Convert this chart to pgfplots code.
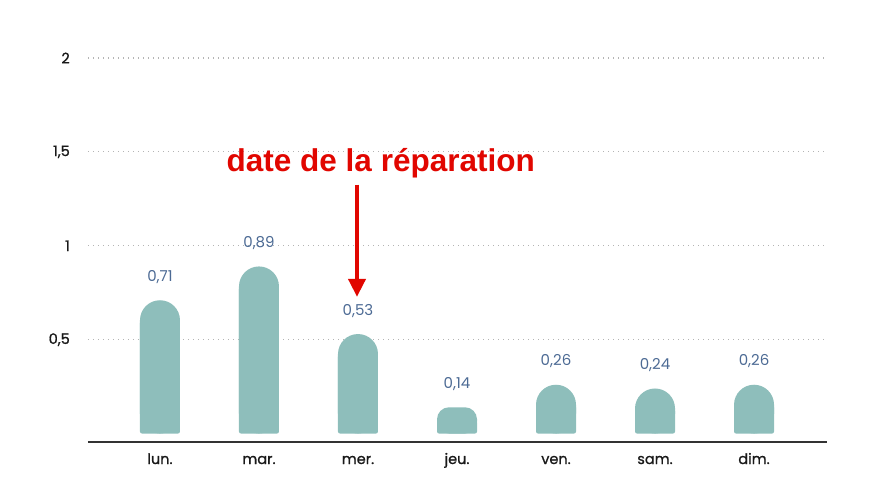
\documentclass[border=0pt]{standalone}
\usepackage{fontspec}
\setmainfont{Poppins}
\newfontfamily\medfont[FakeBold=0.9]{Poppins}
\newfontfamily\titlefont{Liberation Sans}
\usepackage{pgfplots}
\usepackage{pgfplotstable}
\pgfplotsset{compat=1.18}
\usetikzlibrary{arrows.meta}

\definecolor{barcol}{HTML}{8EBEBB}
\definecolor{valcol}{HTML}{4C6A94}
\definecolor{gridcol}{HTML}{B4B4B4}
\definecolor{redann}{HTML}{E10600}

% jours de la semaine : x, valeur, etiquette, base (bas carre des barres)
\pgfplotstableread{
x y    lab  base
0 0.71 0,71 0.60
1 0.89 0,89 0.78
2 0.53 0,53 0.42
3 0.14 0,14 0.07
4 0.26 0,26 0.15
5 0.24 0,24 0.13
6 0.26 0,26 0.15
}\jours

\pgfplotstableread{
x y
0 0.71
1 0.89
2 0.53
4 0.26
5 0.24
6 0.26
}\hautes

\pgfplotstableread{
x y
3 0.14
}\basse

\begin{document}
\begin{tikzpicture}
\useasboundingbox (-88bp,-58bp) rectangle (784bp,442bp);
\begin{axis}[
    at={(0,0)}, anchor=south west,
    scale only axis,
    width=739bp, height=384bp,
    xmin=-0.727, xmax=6.737,
    ymin=-0.045, ymax=2,
    axis x line*=bottom,
    axis y line*=left,
    x axis line style={-, draw=black!80, line width=1.3bp},
    y axis line style={draw=none},
    xtick={0,...,6},
    xticklabels={lun.,mar.,mer.,jeu.,ven.,sam.,dim.},
    ytick={0.5,1,1.5,2},
    yticklabels={{0,5},1,{1,5},2},
    major tick length=0pt,
    ymajorgrids,
    grid style={gridcol, line width=1.1bp, dash pattern=on 1.3bp off 3.7bp},
    tick label style={font=\medfont\fontsize{14.5bp}{17bp}\selectfont, text=black!90},
    xticklabel style={anchor=base, yshift=-22bp},
    yticklabel style={anchor=east, inner sep=0pt, xshift=-18bp},
    clip=false,
]
\addplot[ybar, bar width=40bp, bar shift=0pt, fill=barcol, draw=none,
    rounded corners=20bp] table[x=x, y=y] {\hautes};
\addplot[ybar, bar width=40bp, bar shift=0pt, fill=barcol, draw=none,
    rounded corners=12bp] table[x=x, y=y] {\basse};
\addplot[ybar, bar width=40bp, bar shift=0pt, fill=barcol, draw=none,
    rounded corners=2bp] table[x=x, y=base] {\jours};
\addplot[draw=none, mark=none, point meta=explicit symbolic,
    nodes near coords,
    every node near coord/.append style={anchor=base, yshift=19bp, inner sep=0pt,
        text=valcol, font=\fontsize{15bp}{17bp}\selectfont}]
    table[x=x, y=y, meta=lab] {\jours};

\node[font=\titlefont\bfseries\fontsize{31.5bp}{34bp}\selectfont, text=redann]
    at (axis cs:2.23,1.44) {date de la réparation};
\draw[redann, line width=4bp, -{Triangle[width=17bp,length=18bp]}]
    (axis cs:1.99,1.325) -- (axis cs:1.99,0.728);
\end{axis}
\end{tikzpicture}
\end{document}
